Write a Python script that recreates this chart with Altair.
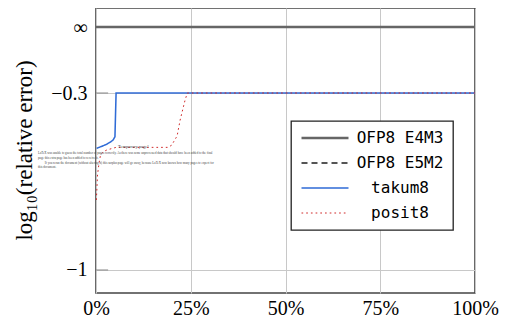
import altair as alt
import pandas as pd

# ---- data ----
INF_POS = -0.039  # y position used for the "∞" tick

series_names = ["OFP8 E4M3", "OFP8 E5M2", "takum8", "posit8"]
series_colors = ["#666666", "#555555", "#2f6bd6", "#d02a2a"]

e4m3_x = [0, 100]
e4m3_y = [INF_POS, INF_POS]

e5m2_x = [0, 100]
e5m2_y = [INF_POS, INF_POS]

takum_x = [0.15, 1.0, 2.0, 2.9, 3.8, 4.5, 5.0, 5.3, 100]
takum_y = [-0.519, -0.514, -0.508, -0.502, -0.494, -0.486, -0.473, -0.300, -0.300]

posit_x = [0.1, 0.4, 0.8, 1.2, 1.85, 2.9, 5.3, 19.0, 20.0, 20.6, 21.4, 22.2, 23.5, 24.1, 100]
posit_y = [-0.723, -0.624, -0.577, -0.545, -0.533, -0.525, -0.515, -0.515,
           -0.506, -0.490, -0.470, -0.407, -0.328, -0.300, -0.300]

y_tick_values = [-1.0, -0.3, INF_POS]
x_tick_values = [0, 25, 50, 75, 100]

note_lines = [
    "LaTeX was unable to guess the total number of pages correctly. As there was some unprocessed data that should have been added to the final",
    "page this extra page has been added to receive it.",
    "If you rerun the document (without altering it) this surplus page will go away, because LaTeX now knows how many pages to expect for",
    "this document.",
]
note_x = [-15.3, -15.3, -13.5, -15.3]
note_y = [-0.537, -0.556, -0.574, -0.590]

temp_text = ["Temporary page!"]
temp_x = [5.8]
temp_y = [-0.512]

SERIF = "'Liberation Serif', 'Times New Roman', Times, serif"

# ---- tables ----
rows = []
for name, xs, ys in [("OFP8 E4M3", e4m3_x, e4m3_y), ("OFP8 E5M2", e5m2_x, e5m2_y),
                     ("takum8", takum_x, takum_y), ("posit8", posit_x, posit_y)]:
    for i, (xv, yv) in enumerate(zip(xs, ys)):
        rows.append({"series": name, "x": xv, "y": yv, "i": i})
df = pd.DataFrame(rows)

notes = pd.DataFrame({"x": note_x, "y": note_y, "t": note_lines})
temp = pd.DataFrame({"x": temp_x, "y": temp_y, "t": temp_text})
ticks = pd.DataFrame({"y": [-1.0, -0.3], "x0": [0, 0], "x1": [3.2, 3.2]})

xscale = alt.Scale(domain=[0, 100], nice=False, zero=False)
yscale = alt.Scale(domain=[-1.091, 0.0362], nice=False, zero=False)

x_axis = alt.Axis(values=x_tick_values, labelExpr="datum.value + '%'", title=None,
                  grid=True, ticks=False, domain=False, labelFlush=False,
                  labelOverlap=False, labelPadding=5,
                  labelFont=SERIF, labelFontSize=20, labelColor="#000000")
y_axis = alt.Axis(values=y_tick_values,
                  labelExpr="datum.value < -0.9 ? '\u22121' : (datum.value < -0.2 ? '\u22120.3' : '\u221e')",
                  title="log\u2081\u2080(relative error)", grid=True, ticks=False, domain=False,
                  labelFlush=False, labelOverlap=False, labelPadding=9,
                  labelFont=SERIF, labelFontSize=20, labelColor="#000000",
                  titleFont=SERIF, titleFontSize=23, titleFontWeight="normal", titleColor="#000000",
                  titleX=-72, titleY=142, titleAngle=270, titleAlign="center",
                  titleBaseline="middle")

legend = alt.Legend(title=None, orient="none", legendX=195, legendY=113,
                    symbolType="stroke", symbolSize=2209, clipHeight=16,
                    labelFont="DejaVu Sans Mono", labelFontSize=16, labelColor="#000",
                    labelAlign="center", labelOffset=50, labelLimit=200,
                    rowPadding=9, padding=9,
                    fillColor="#ffffff", strokeColor="#222222")

color = alt.Color("series:N", scale=alt.Scale(domain=series_names, range=series_colors),
                  sort=series_names, legend=legend)
dash = alt.StrokeDash("series:N", scale=alt.Scale(domain=series_names,
                      range=[[1, 0], [6, 4], [1, 0], [1.7, 3.0]]), sort=series_names, legend=legend)
width = alt.StrokeWidth("series:N", scale=alt.Scale(domain=series_names, range=[2.6, 1.0, 1.4, 2.4]),
                        sort=series_names, legend=legend)

base = alt.Chart(df).mark_line(strokeCap="butt").encode(
    x=alt.X("x:Q", scale=xscale, axis=x_axis),
    y=alt.Y("y:Q", scale=yscale, axis=y_axis),
    color=color, strokeDash=dash, strokeWidth=width,
    order="i:Q",
)

layers = [
    alt.Chart(ticks).mark_rule(color="#888888", strokeWidth=1).encode(
        x=alt.X("x0:Q", scale=xscale), x2="x1:Q", y=alt.Y("y:Q", scale=yscale)),
]
for s in ["OFP8 E5M2", "OFP8 E4M3", "takum8", "posit8"]:
    layers.append(base.transform_filter(alt.datum.series == s))

layers.append(alt.Chart(notes).mark_text(font=SERIF, fontSize=3.1, align="left",
                                         baseline="middle", color="#444444").encode(
    x=alt.X("x:Q", scale=xscale), y=alt.Y("y:Q", scale=yscale), text="t:N"))
layers.append(alt.Chart(temp).mark_text(font=SERIF, fontSize=4.5, align="left",
                                        baseline="middle", color="#444444").encode(
    x=alt.X("x:Q", scale=xscale), y=alt.Y("y:Q", scale=yscale), text="t:N"))

chart = alt.layer(*layers).properties(
    width=379, height=285,
    autosize=alt.AutoSizeParams(type="none"),
    padding={"left": 88, "top": 0, "right": 26, "bottom": 24},
).configure_view(
    stroke="#444444", strokeWidth=1.6,
).configure_axis(
    gridColor="#c8c8c8", gridWidth=1,
).configure_legend(
    strokeWidth=1.3,
)

chart.save("out.html", embed_options={"renderer": "svg", "actions": False})
